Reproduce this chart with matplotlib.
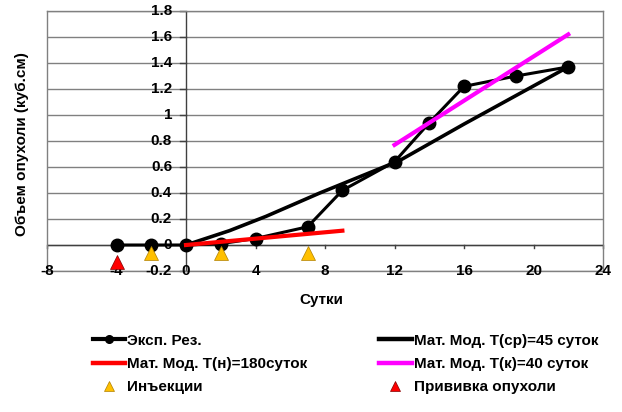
import matplotlib.pyplot as plt
from matplotlib.lines import Line2D

plt.rcParams['font.family'] = ['Liberation Sans', 'DejaVu Sans']
plt.rcParams['font.weight'] = 'bold'

FS = 11

# экспериментальные результаты
exp_days = [-4, -2, 0, 2, 4, 7, 9, 12, 14, 16, 19, 22]
exp_vol = [0, 0, 0, 0.01, 0.05, 0.14, 0.42, 0.64, 0.94, 1.22, 1.30, 1.37]

# модели
avg_days = [0, 2.5, 4.6, 7.7, 12.3, 16, 22]
avg_vol = [0, 0.11, 0.22, 0.40, 0.65, 0.93, 1.37]
start_days = [0, 9]
start_vol = [0, 0.11]
end_days = [12, 22]
end_vol = [0.77, 1.62]

# инъекции и прививка
inj_days = [-2, 2, 7]
inj_y = [-0.065, -0.065, -0.065]
graft_days = [-4]
graft_y = [-0.13]

x_ticks = [-8, -4, 0, 4, 8, 12, 16, 20, 24]
y_ticks = [-0.2, 0, 0.2, 0.4, 0.6, 0.8, 1, 1.2, 1.4, 1.6, 1.8]
y_labels = ['-0.2', '0', '0.2', '0.4', '0.6', '0.8', '1', '1.2', '1.4', '1.6', '1.8']

fig = plt.figure(figsize=(6.22, 4.12), dpi=100)
ax = fig.add_axes([47 / 622, 1 - 271 / 412, 556 / 622, 260 / 412])
ax.set_xlim(-8, 24)
ax.set_ylim(-0.2, 1.8)

# сетка
for yv in y_ticks:
    ax.axhline(yv, color='#808080', lw=1, zorder=1)
for s in ax.spines.values():
    s.set_color('#808080')
    s.set_linewidth(1)
ax.set_xticks([])
ax.set_yticks([])

# оси через ноль
ax.axhline(0, color='#404040', lw=1, zorder=2)
ax.axvline(0, color='#404040', lw=1, zorder=2)
for xv in x_ticks:
    ax.plot([xv, xv], [0, -0.025], color='#404040', lw=1, zorder=2, clip_on=False)
    ax.text(xv, -0.2, str(xv), ha='center', va='center', fontsize=FS, fontweight='bold')
for yv, lab in zip(y_ticks, y_labels):
    ax.plot([-0.35, 0], [yv, yv], color='#404040', lw=1, zorder=2, clip_on=False)
    ax.text(-0.8, yv, lab, ha='right', va='center', fontsize=FS, fontweight='bold')

ax.plot(avg_days, avg_vol, color='black', lw=2.6, zorder=3)
ax.plot(exp_days, exp_vol, color='black', lw=2.2, marker='o', ms=9, zorder=4)
ax.plot(start_days, start_vol, color='red', lw=3, zorder=5)
ax.plot(end_days, end_vol, color='#FF00FF', lw=3, zorder=5)
ax.plot(inj_days, inj_y, ls='none', marker='^', ms=10, mfc='#FFC000', mec='#B08000', mew=0.5, zorder=6, clip_on=False)
ax.plot(graft_days, graft_y, ls='none', marker='^', ms=10, mfc='red', mec='#800000', mew=0.5, zorder=6, clip_on=False)

fig.text(22 / 622, 1 - 144 / 412, 'Объем опухоли (куб.см)', rotation=90, ha='center', va='center',
         fontsize=FS, fontweight='bold')
fig.text(321 / 622, 1 - 300 / 412, 'Сутки', ha='center', va='center', fontsize=FS, fontweight='bold')

h_exp = Line2D([], [], color='black', lw=3, marker='o', ms=5.5)
h_start = Line2D([], [], color='red', lw=3.2)
h_inj = Line2D([], [], ls='none', marker='^', ms=7, mfc='#FFC000', mec='#B08000', mew=0.5)
h_avg = Line2D([], [], color='black', lw=3.2)
h_end = Line2D([], [], color='#FF00FF', lw=3.2)
h_graft = Line2D([], [], ls='none', marker='^', ms=7, mfc='red', mec='#800000', mew=0.5)
fig.legend([h_exp, h_start, h_inj, h_avg, h_end, h_graft],
           ['Эксп. Рез.', 'Мат. Мод. Т(н)=180суток', 'Инъекции',
            'Мат. Мод. Т(ср)=45 суток', 'Мат. Мод. Т(к)=40 суток', 'Прививка опухоли'],
           ncol=2, loc='center left', bbox_to_anchor=(85 / 622, 1 - 364 / 412), frameon=False,
           borderpad=0, prop={'size': FS, 'weight': 'bold'}, handlelength=2.15, handletextpad=0.13,
           columnspacing=4.65, labelspacing=0.6)

fig.savefig('out.png', dpi=100)
